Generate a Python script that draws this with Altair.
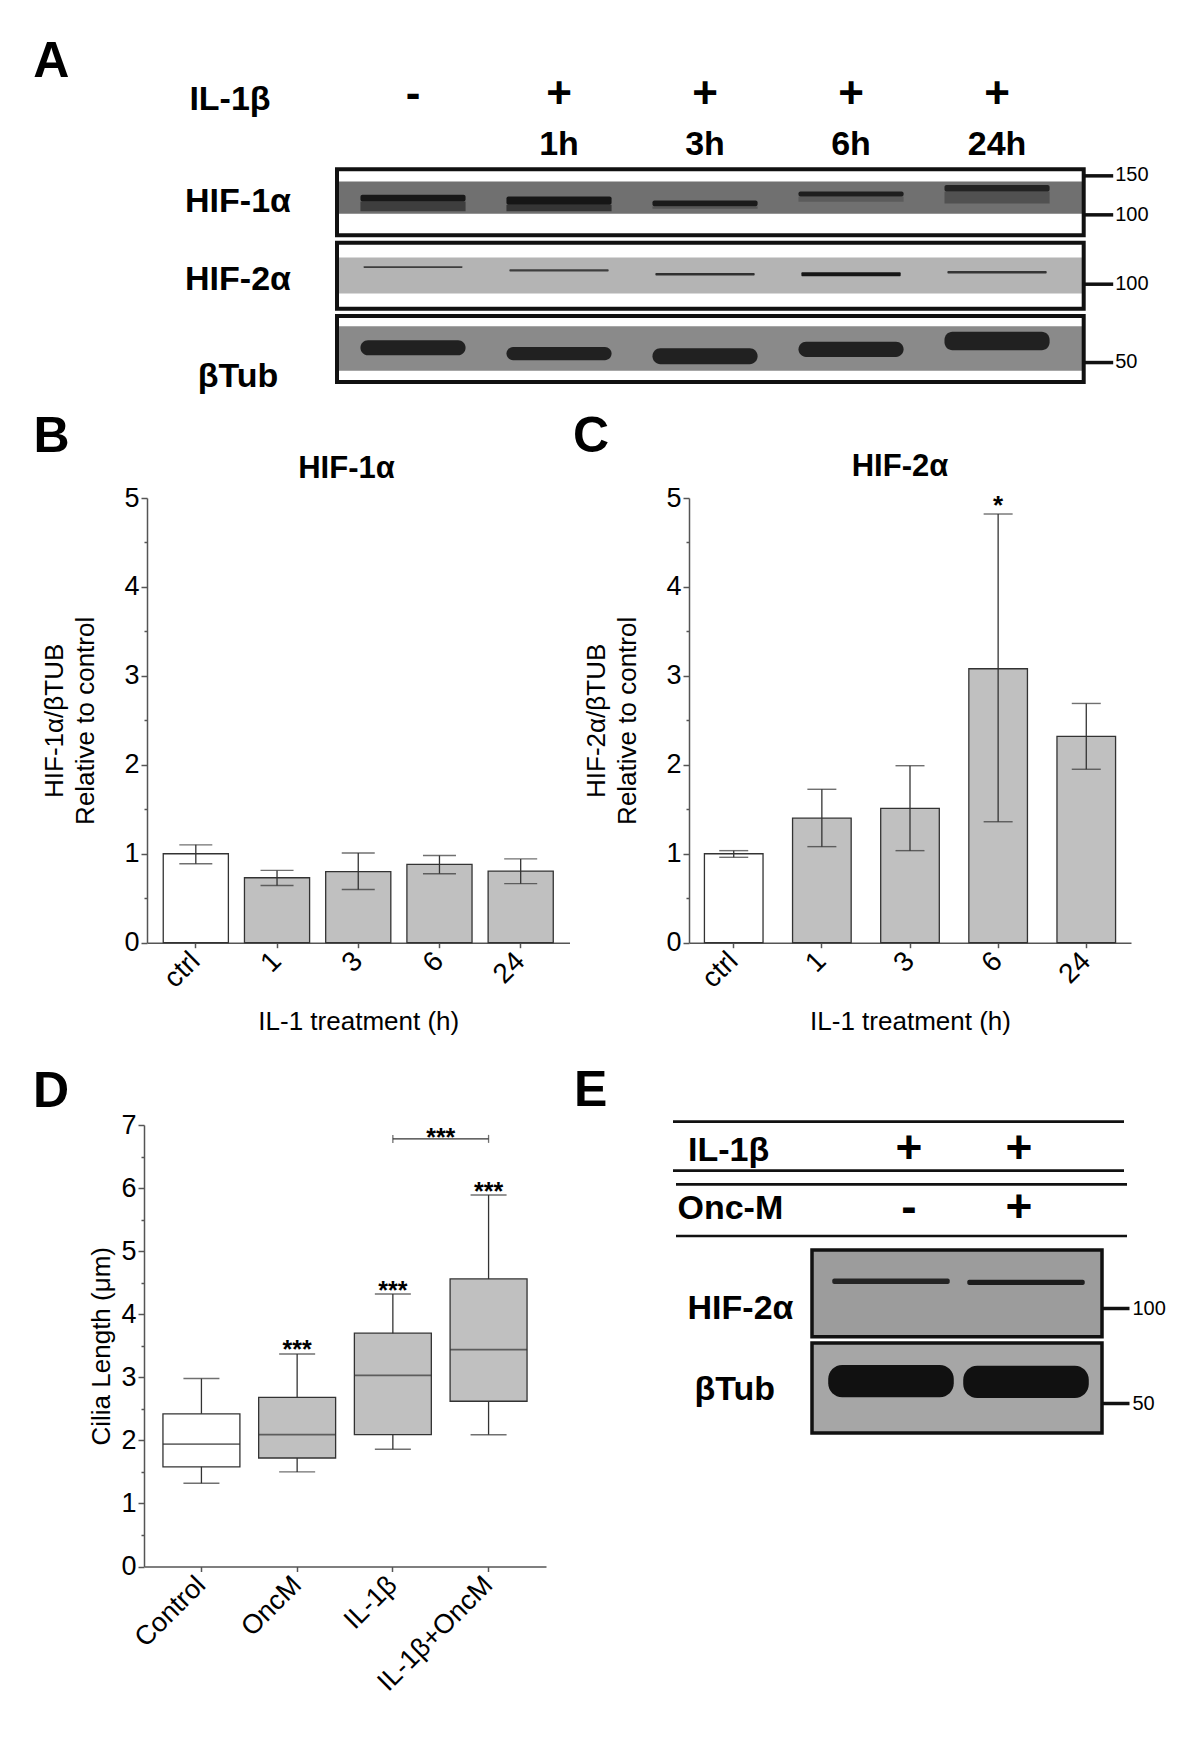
import altair as alt
import pandas as pd

FONT = "Liberation Sans"
INK = "#111111"
AXC = "#555555"
EDGE = "#333333"
FILL = "#c0c0c0"

# ---------------- data ----------------
# Panel A: western blot, IL-1beta time course (band extents read as apparent kDa)
a_lanes = ["ctrl", "1h", "3h", "6h", "24h"]
a_sign = ["-", "+", "+", "+", "+"]
a_time = ["", "1h", "3h", "6h", "24h"]
a_hif1_top = [122.5, 120.4, 115.6, 126.6, 135.5]
a_hif1_bot = [114.4, 110.6, 108.8, 120.4, 126.6]
a_hif1_int = [0.92, 0.95, 0.90, 0.85, 0.80]
a_hif1_smear_bot = [103.5, 103.5, 106.0, 114.0, 112.0]
a_hif1_smear_int = [0.50, 0.60, 0.25, 0.20, 0.30]
a_hif2_top = [119.2, 115.6, 111.3, 112.1, 113.6]
a_hif2_bot = [117.1, 112.9, 108.5, 107.7, 110.7]
a_hif2_int = [0.50, 0.50, 0.65, 0.95, 0.60]
a_tub_top = [62.3, 58.2, 57.4, 61.3, 67.8]
a_tub_bot = [53.5, 50.9, 48.9, 52.6, 56.3]
a_tub_int = [0.82, 0.82, 0.82, 0.82, 0.82]
a_markers = {"HIF-1α": [150, 100], "HIF-2α": [100], "βTub": [50]}
a_frame_kda = {"HIF-1α": [80.8, 158.9], "HIF-2α": [77.6, 151.0], "βTub": [40.8, 79.5]}
a_gray_kda = {"HIF-1α": [100.7, 140.2], "HIF-2α": [90.4, 130.2], "βTub": [45.7, 71.8]}

# Panel B: HIF-1alpha / betaTUB
b_cats = ["ctrl", "1", "3", "6", "24"]
b_mean = [1.00, 0.73, 0.80, 0.88, 0.805]
b_lo = [0.888, 0.643, 0.598, 0.776, 0.664]
b_hi = [1.10, 0.813, 1.008, 0.98, 0.942]
b_sig = ["", "", "", "", ""]

# Panel C: HIF-2alpha / betaTUB
c_mean = [1.00, 1.40, 1.51, 3.08, 2.32]
c_lo = [0.96, 1.08, 1.035, 1.36, 1.95]
c_hi = [1.035, 1.725, 1.99, 4.82, 2.69]
c_sig = ["", "", "", "*", ""]

# Panel D: cilia length box plot
d_cats = ["Control", "OncM", "IL-1β", "IL-1β+OncM"]
d_min = [1.32, 1.50, 1.86, 2.09]
d_q1 = [1.58, 1.72, 2.09, 2.62]
d_med = [1.94, 2.09, 3.03, 3.44]
d_q3 = [2.42, 2.68, 3.70, 4.56]
d_max = [2.98, 3.37, 4.32, 5.89]
d_sig = ["", "***", "***", "***"]
d_pair = ["IL-1β", "IL-1β+OncM"]
d_pair_level = 6.78
d_pair_sig = "***"

# Panel E: western blot, IL-1beta +/- Onc-M
e_lanes = ["IL-1β", "IL-1β+OncM"]
e_il1 = ["+", "+"]
e_oncm = ["-", "+"]
e_hif2_top = [124.0, 123.0]
e_hif2_bot = [119.1, 118.2]
e_hif2_int = [0.85, 0.90]
e_tub_top = [66.0, 65.6]
e_tub_bot = [52.2, 51.9]
e_tub_int = [1.0, 1.0]
e_frames = {"HIF-2α": [81.1, 152.7], "βTub": [40.2, 77.5]}
e_domain = [40.2, 380.0]
e_markers = [100, 50]


def txt(text, x, y, size, weight="bold", align="left", baseline="alphabetic"):
    return alt.Chart(pd.DataFrame({"t": [text]})).mark_text(
        align=align, baseline=baseline, fontSize=size, fontWeight=weight, color="black"
    ).encode(text="t:N", x=alt.value(x), y=alt.value(y))


def spacer(w, h):
    return alt.Chart(pd.DataFrame({"v": [0]})).mark_point(opacity=0).properties(width=w, height=h)


def frame_spacer(w, x1, y1, x2, y2):
    # invisible box that fixes the extent of one row of the figure
    return alt.Chart(pd.DataFrame({"v": [0]})).mark_rect(opacity=0).encode(
        x=alt.value(x1), x2=alt.value(x2), y=alt.value(y1), y2=alt.value(y2)
    ).properties(width=w, height=1)


# ---------------- Panel A ----------------
A_W, A_H = 746.7, 66.0
a_x = alt.Scale(domain=a_lanes, paddingInner=0, paddingOuter=0.057, align=0.18)


def strip(name, bg, band_sets, label_y, extra=()):
    ys = alt.Scale(type="log", domain=a_frame_kda[name], nice=False)
    yax = alt.Axis(orient="right", values=a_markers[name], format="d", tickSize=29, tickWidth=3.5,
                   tickColor=INK, domain=False, grid=False, labelFontSize=20, labelPadding=2,
                   labelColor="black", title=None)
    cs = alt.Scale(domain=[0, 1], range=[bg, INK])
    g = a_gray_kda[name]
    layers = [
        alt.Chart(pd.DataFrame({"top": [g[1]], "bot": [g[0]]})).mark_rect(color=bg).encode(
            y=alt.Y("top:Q", scale=ys, axis=yax), y2="bot:Q")
    ]
    for top, bot, inten, bw, rad in band_sets:
        layers.append(
            alt.Chart(pd.DataFrame({"lane": a_lanes, "top": top, "bot": bot, "int": inten}))
            .mark_bar(width=alt.RelativeBandSize(bw), cornerRadius=rad)
            .encode(x=alt.X("lane:N", scale=a_x, axis=None),
                    y=alt.Y("top:Q", scale=ys, axis=yax), y2="bot:Q",
                    color=alt.Color("int:Q", scale=cs, legend=None))
        )
    f = a_frame_kda[name]
    layers.append(
        alt.Chart(pd.DataFrame({"top": [f[1]], "bot": [f[0]]})).mark_rect(
            fillOpacity=0, stroke=INK, strokeWidth=4).encode(
            y=alt.Y("top:Q", scale=ys, axis=yax), y2="bot:Q")
    )
    layers.append(txt(name, -99, label_y, 34, align="center"))
    layers.extend(extra)
    return alt.layer(*layers).properties(width=A_W, height=A_H)


hdr = pd.DataFrame({"lane": a_lanes, "sign": a_sign, "time": a_time})
a_header = [
    alt.Chart(hdr).mark_text(fontSize=44, fontWeight="bold", baseline="alphabetic", color="black").encode(
        x=alt.X("lane:N", scale=a_x, axis=None), y=alt.value(-61.5), text="sign:N"),
    alt.Chart(hdr).mark_text(fontSize=34, fontWeight="bold", baseline="alphabetic", color="black").encode(
        x=alt.X("lane:N", scale=a_x, axis=None), y=alt.value(-14.3), text="time:N"),
    txt("IL-1β", -107, -59.3, 34, align="center"),
    txt("A", -303.7, -92.6, 50),
]

strip1 = strip("HIF-1α", "#707070",
               [(a_hif1_bot, a_hif1_smear_bot, a_hif1_smear_int, 0.72, 0),
                (a_hif1_top, a_hif1_bot, a_hif1_int, 0.72, 2)],
               42.4, a_header)
strip2 = strip("HIF-2α", "#b4b4b4", [(a_hif2_top, a_hif2_bot, a_hif2_int, 0.68, 1)], 47.3)
strip3 = strip("βTub", "#8a8a8a", [(a_tub_top, a_tub_bot, a_tub_int, 0.72, 8)], 70.7)


# ---------------- Panels B & C ----------------
def y_half_axis(title, maxv, tpad, lsize):
    return alt.Axis(
        title=title, values=[i * 0.5 for i in range(int(maxv * 2) + 1)],
        labelExpr="datum.value % 1 == 0 ? format(datum.value, 'd') : ''",
        tickSize={"condition": {"test": "datum.value % 1 == 0", "value": 6}, "value": 3},
        labelFontSize=lsize, labelPadding=2, titleFontSize=26, titleFontWeight="normal",
        titlePadding=tpad, titleLineHeight=31, grid=False)


def bar_panel(cats, mean, lo, hi, sig, W, pin, pout, cap, title, title_x, title_y,
              ytitle, letter, letter_x):
    df = pd.DataFrame({"cond": cats, "mean": mean, "lo": lo, "hi": hi, "sig": sig})
    xs = alt.Scale(domain=cats, paddingInner=pin, paddingOuter=pout)
    ys = alt.Scale(domain=[0, 5], nice=False)
    xax = alt.Axis(title="IL-1 treatment (h)", labelAngle=-45, labelAlign="right",
                   labelBaseline="middle", labelFontSize=28, labelPadding=9, tickSize=5,
                   titleFontSize=26, titleFontWeight="normal", titlePadding=16)
    yax = y_half_axis(ytitle, 5, 25, 27)
    X = alt.X("cond:N", scale=xs, axis=xax)

    def Y(f):
        return alt.Y(f + ":Q", scale=ys, axis=yax)

    base = alt.Chart(df)
    fill = alt.Fill("cond:N", scale=alt.Scale(domain=cats, range=["#ffffff"] + [FILL] * (len(cats) - 1)),
                    legend=None)
    bars = base.mark_bar(stroke=EDGE, strokeWidth=1.3).encode(x=X, y=Y("mean"), fill=fill)
    err = base.mark_rule(color=EDGE, strokeWidth=1.3).encode(x=X, y=Y("lo"), y2="hi:Q")
    cap_hi = base.mark_tick(orient="horizontal", color=EDGE, thickness=1.4, size=cap).encode(x=X, y=Y("hi"))
    cap_lo = base.mark_tick(orient="horizontal", color=EDGE, thickness=1.4, size=cap).encode(x=X, y=Y("lo"))
    stars = base.mark_text(fontSize=26, fontWeight="bold", baseline="alphabetic", color="black").encode(
        x=X, y=Y("hi"), text="sig:N")
    return alt.layer(bars, err, cap_hi, cap_lo, stars,
                     txt(title, title_x, title_y, 31, align="center"),
                     txt(letter, letter_x, -45.8, 50)).properties(width=W, height=444.7)


panel_b = bar_panel(b_cats, b_mean, b_lo, b_hi, b_sig, 422.5, 0.198, 0.2, 33,
                    "HIF-1α", 199.5, -20, ["HIF-1α/βTUB", "Relative to control"], "B", -113.5)
panel_c = bar_panel(b_cats, c_mean, c_lo, c_hi, c_sig, 442.0, 0.335, 0.175, 29,
                    "HIF-2α", 211, -22.5, ["HIF-2α/βTUB", "Relative to control"], "C", -116)

# ---------------- Panel D ----------------
ddf = pd.DataFrame({"grp": d_cats, "lo": d_min, "q1": d_q1, "med": d_med, "q3": d_q3,
                    "hi": d_max, "sig": d_sig})
d_xs = alt.Scale(domain=d_cats, paddingInner=0.196, paddingOuter=0.198)
d_ys = alt.Scale(domain=[0, 7], nice=False)
d_xax = alt.Axis(title=None, labelAngle=-45, labelAlign="right", labelBaseline="middle",
                 labelFontSize=27, labelPadding=9, tickSize=5)
d_yax = y_half_axis("Cilia Length (μm)", 7, 6, 27)
DX = alt.X("grp:N", scale=d_xs, axis=d_xax)


def DY(f):
    return alt.Y(f + ":Q", scale=d_ys, axis=d_yax)


dbase = alt.Chart(ddf)
d_fill = alt.Fill("grp:N", scale=alt.Scale(domain=d_cats, range=["#ffffff", FILL, FILL, FILL]), legend=None)
pair_df = pd.DataFrame({"grp": d_pair, "lvl": [d_pair_level] * 2})
pair_lab = pd.DataFrame({"grp": [d_pair[0]], "lvl": [d_pair_level], "sig": [d_pair_sig]})
panel_d = alt.layer(
    dbase.mark_rule(color=EDGE, strokeWidth=1.3).encode(x=DX, y=DY("lo"), y2="hi:Q"),
    dbase.mark_bar(stroke=EDGE, strokeWidth=1.3).encode(x=DX, y=DY("q1"), y2="q3:Q", fill=d_fill),
    dbase.mark_tick(orient="horizontal", color=EDGE, thickness=1.8, size=77).encode(x=DX, y=DY("med")),
    dbase.mark_tick(orient="horizontal", color=EDGE, thickness=1.4, size=36).encode(x=DX, y=DY("hi")),
    dbase.mark_tick(orient="horizontal", color=EDGE, thickness=1.4, size=36).encode(x=DX, y=DY("lo")),
    dbase.mark_text(fontSize=25, fontWeight="bold", baseline="alphabetic", dy=4.5, color="black").encode(
        x=DX, y=DY("hi"), text="sig:N"),
    alt.Chart(pair_df).mark_line(color=EDGE, strokeWidth=1.3).encode(x=DX, y=DY("lvl")),
    alt.Chart(pair_df).mark_tick(orient="vertical", color=EDGE, thickness=1.3, size=8).encode(x=DX, y=DY("lvl")),
    alt.Chart(pair_lab).mark_text(fontSize=25, fontWeight="bold", baseline="alphabetic", dx=47.9, dy=7.4,
                                  color="black").encode(x=DX, y=DY("lvl"), text="sig:N"),
    txt("D", -111, -18.3, 50),
).properties(width=402, height=441.5)

# ---------------- Panel E ----------------
E_W, E_H = 290, 308
e_ys = alt.Scale(type="log", domain=e_domain, nice=False)
e_yax = alt.Axis(orient="right", values=e_markers, format="d", tickSize=27, tickWidth=3.5,
                 tickColor=INK, domain=False, grid=False, labelFontSize=20, labelPadding=3,
                 labelColor="black", title=None)
e_xb = alt.Scale(domain=e_lanes, paddingInner=0, paddingOuter=0.074, align=0.575)
e_xh = alt.Scale(type="point", domain=e_lanes, padding=0.818, align=0.539)


def EY(f):
    return alt.Y(f + ":Q", scale=e_ys, axis=e_yax)


def e_frame(name, bg):
    lo, hi = e_frames[name]
    return alt.Chart(pd.DataFrame({"top": [hi], "bot": [lo]})).mark_rect(
        fill=bg, stroke=INK, strokeWidth=3.5).encode(y=EY("top"), y2="bot:Q")


def e_bands(top, bot, inten, bg, bw, rad):
    return alt.Chart(pd.DataFrame({"lane": e_lanes, "top": top, "bot": bot, "int": inten})).mark_bar(
        width=alt.RelativeBandSize(bw), cornerRadius=rad).encode(
        x=alt.X("lane:N", scale=e_xb, axis=None), y=EY("top"), y2="bot:Q",
        color=alt.Color("int:Q", scale=alt.Scale(domain=[0, 1], range=[bg, INK]), legend=None))


def e_rule(x1, x2, y):
    return alt.Chart(pd.DataFrame({"v": [0]})).mark_rule(color=INK, strokeWidth=2.7).encode(
        x=alt.value(x1), x2=alt.value(x2), y=alt.value(y))


ehdr = pd.DataFrame({"lane": e_lanes, "il1": e_il1, "oncm": e_oncm})
panel_e = alt.layer(
    e_frame("HIF-2α", "#9c9c9c"),
    e_frame("βTub", "#a6a6a6"),
    e_bands(e_hif2_top, e_hif2_bot, e_hif2_int, "#9c9c9c", 0.87, 2),
    e_bands(e_tub_top, e_tub_bot, e_tub_int, "#a6a6a6", 0.93, 14),
    e_rule(-139, 312, -3.3),
    e_rule(-139, 312, 45.7),
    e_rule(-136, 315, 59.3),
    e_rule(-136, 315, 111),
    alt.Chart(ehdr).mark_text(fontSize=46, fontWeight="bold", baseline="alphabetic", color="black").encode(
        x=alt.X("lane:N", scale=e_xh, axis=None), y=alt.value(38), text="il1:N"),
    alt.Chart(ehdr).mark_text(fontSize=46, fontWeight="bold", baseline="alphabetic", color="black").encode(
        x=alt.X("lane:N", scale=e_xh, axis=None), y=alt.value(96.5), text="oncm:N"),
    txt("IL-1β", -124, 35.5, 34),
    txt("Onc-M", -134.5, 93.9, 34),
    txt("HIF-2α", -71.5, 193.9, 34, align="center"),
    txt("βTub", -77.3, 275, 34, align="center"),
    txt("E", -238, -19.5, 50),
).resolve_scale(x="independent", color="independent").properties(width=E_W, height=E_H)

# ---------------- assembly ----------------
row_a = alt.hconcat(
    frame_spacer(328.7, 0, 0, 1184, 387),
    alt.vconcat(spacer(1, 153.95), strip1, strip2, strip3, spacing=7.35, bounds="flush"),
    spacing=0, bounds="flush")
row_b = alt.hconcat(
    frame_spacer(138.5, 0, -103, 1184, 552), panel_b, spacer(119, 1), panel_c,
    spacing=0, bounds="flush")
row_d = alt.hconcat(
    frame_spacer(136, 0, -75, 1184, 608), panel_d, spacer(266, 1), panel_e,
    spacing=0, bounds="flush")

chart = alt.vconcat(row_a, row_b, row_d, spacing=0).properties(padding=0).configure(
    font=FONT).configure_view(stroke=None).configure_axis(
    labelFont=FONT, titleFont=FONT, labelColor="black", titleColor="black",
    domainColor=AXC, tickColor=AXC, domainWidth=1.5, tickWidth=1.5, grid=False)

chart.save("out.html", embed_options={"renderer": "svg", "actions": False})
